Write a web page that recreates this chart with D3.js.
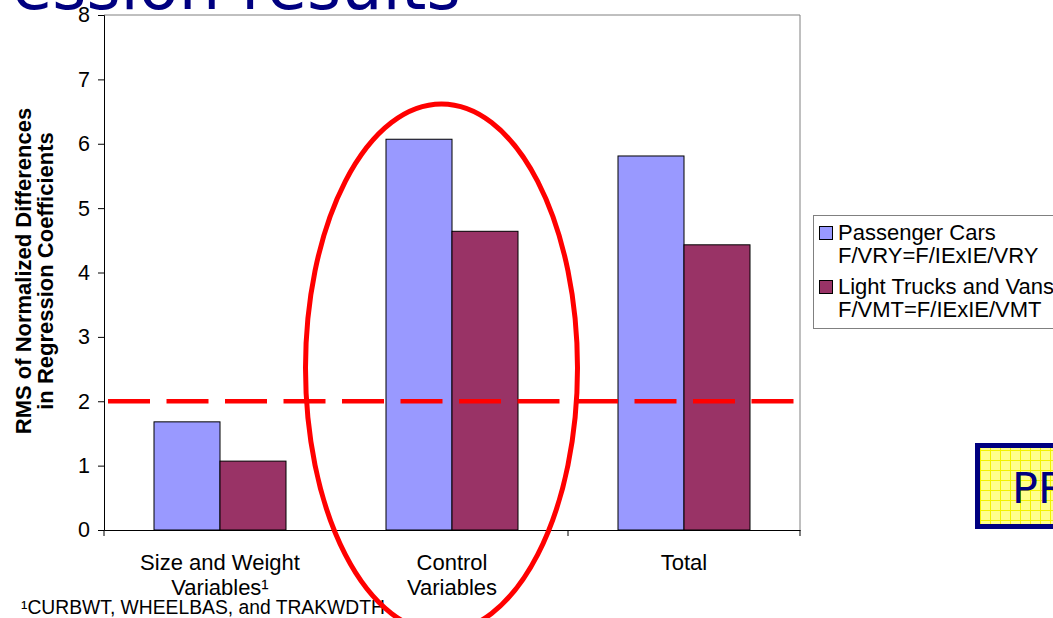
<!DOCTYPE html>
<html><head><meta charset="utf-8">
<script src="https://cdn.jsdelivr.net/npm/d3@7"></script>
<style>body{margin:0;background:#fff;overflow:hidden}</style>
</head><body>
<script>
const categories = [["Size and Weight","Variables¹"],["Control","Variables"],["Total"]];
const categoryKeys = ["Size and Weight","Control","Total"];
const seriesNames = [["Passenger Cars","F/VRY=F/IExIE/VRY"],["Light Trucks and Vans","F/VMT=F/IExIE/VMT"]];
const passengerCars = [1.68, 6.07, 5.81];
const lightTrucks = [1.07, 4.64, 4.43];
const yTicks = [0,1,2,3,4,5,6,7,8];
const threshold = 2;
const titleText = "ession results";
const footnote = "¹CURBWT, WHEELBAS, and TRAKWDTH";
const stampText = "PR";
const colors = ["#9999FF","#993366"];

const W=1053,H=618;
const svg=d3.select("body").append("svg").attr("width",W).attr("height",H);
const font="Liberation Sans, Arial, sans-serif";

const x=d3.scaleBand().domain(categoryKeys).range([104,800]).paddingInner(100/232).paddingOuter(50/232);
const xs=d3.scaleBand().domain([0,1]).range([0,x.bandwidth()]);
const xCat=d3.scaleBand().domain(categoryKeys).range([104,800]);
const y=d3.scaleLinear().domain([0,8]).range([530,15]);

const defs=svg.append("defs");
const pat=defs.append("pattern").attr("id","grid").attr("width",10).attr("height",10).attr("patternUnits","userSpaceOnUse");
pat.append("rect").attr("width",10).attr("height",10).attr("fill","#FFFF8C");
pat.append("path").attr("d","M0,0.5H10M0.5,0V10").attr("stroke","#F2F200").attr("stroke-width",1);

// title
svg.append("text").attr("x",0).attr("y",0).attr("font-family","DejaVu Sans, Verdana, sans-serif").attr("font-size",65.5)
  .attr("fill","#000080").attr("transform","translate(12,9)").text(titleText);

// plot border (top & right)
svg.append("path").attr("d",`M104,${y(8)}H800V${y(0)}`).attr("fill","none").attr("stroke","#808080").attr("stroke-width",1);

// bars
const data=categoryKeys.map((c,i)=>({c,vals:[passengerCars[i],lightTrucks[i]]}));
const g=svg.append("g");
data.forEach(d=>{
  d.vals.forEach((v,s)=>{
    g.append("rect").attr("x",x(d.c)+xs(s)).attr("y",y(v)).attr("width",xs.bandwidth()).attr("height",y(0)-y(v))
      .attr("fill",colors[s]).attr("stroke","#000").attr("stroke-width",1);
  });
});

// y axis
const yAxis=d3.axisLeft(y).tickValues(yTicks).tickSize(6).tickPadding(8).tickFormat(d3.format("d"));
const ya=svg.append("g").attr("transform","translate(104,0)").call(yAxis);
ya.select(".domain").attr("stroke","#000");
ya.selectAll("line").attr("stroke","#000");
ya.selectAll("text").attr("font-family",font).attr("font-size",21.5).attr("fill","#000");

// x axis
const xAxis=d3.axisBottom(xCat).tickValues([]).tickSizeOuter(0);
const xa=svg.append("g").attr("transform","translate(0,530)").call(xAxis);
xa.select(".domain").attr("stroke","#000");
const bounds=[104].concat(categoryKeys.map(c=>xCat(c)+xCat.bandwidth()));
bounds.forEach(b=>xa.append("line").attr("x1",b).attr("x2",b).attr("y1",0).attr("y2",6).attr("stroke","#000"));
categories.forEach((lines,i)=>{
  const cx=xCat(categoryKeys[i])+xCat.bandwidth()/2;
  const t=svg.append("text").attr("x",cx).attr("y",570)
    .attr("text-anchor","middle").attr("font-family",font).attr("font-size",22).attr("fill","#000");
  lines.forEach((l,j)=>t.append("tspan").attr("x",cx).attr("dy",j?25:0).text(l));
});

// y axis title
const yt=svg.append("text").attr("transform","translate(0,271) rotate(-90)").attr("text-anchor","middle")
  .attr("font-family",font).attr("font-size",22).attr("font-weight","bold").attr("fill","#000");
yt.append("tspan").attr("x",0).attr("y",31).text("RMS of Normalized Differences");
yt.append("tspan").attr("x",0).attr("y",53).text("in Regression Coefficients");

// threshold dashed line
svg.append("line").attr("x1",104).attr("x2",800).attr("y1",y(threshold)).attr("y2",y(threshold))
  .attr("stroke","#FF0000").attr("stroke-width",4.5).attr("stroke-dasharray","42,16.5").attr("stroke-dashoffset",54.5);

// legend
const lg=svg.append("g");
lg.append("rect").attr("x",813.5).attr("y",215.5).attr("width",300).attr("height",113).attr("fill","#fff").attr("stroke","#808080");
const rows=[[240,263],[294,317]];
seriesNames.forEach((n,i)=>{
  lg.append("rect").attr("x",819.5).attr("y",rows[i][0]-13.5).attr("width",13).attr("height",13).attr("fill",colors[i]).attr("stroke","#000");
  lg.append("text").attr("x",838).attr("y",rows[i][0]).attr("font-family",font).attr("font-size",22).text(n[0]);
  lg.append("text").attr("x",838).attr("y",rows[i][1]).attr("font-family",font).attr("font-size",22).text(n[1]);
});

// footnote
svg.append("text").attr("x",21).attr("y",614).attr("font-family",font).attr("font-size",19.3).attr("fill","#000").text(footnote);

// stamp box
svg.append("rect").attr("x",977.5).attr("y",445.5).attr("width",200).attr("height",81).attr("fill","url(#grid)").attr("stroke","#000080").attr("stroke-width",5);
svg.append("text").attr("x",1012).attr("y",503).attr("font-family","DejaVu Sans, Verdana, sans-serif").attr("font-size",43).attr("fill","#000080").text(stampText);

// highlight ellipse
svg.append("ellipse").attr("cx",441.5).attr("cy",368).attr("rx",136).attr("ry",264).attr("fill","none").attr("stroke","#FF0000").attr("stroke-width",5);
</script>
</body></html>
